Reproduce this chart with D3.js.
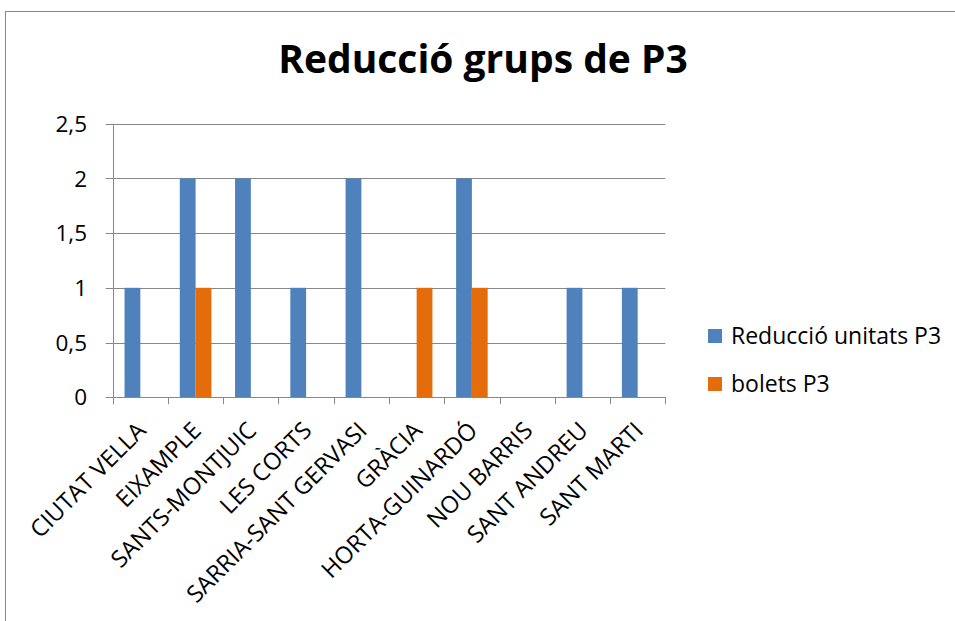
<!DOCTYPE html>
<html><head><meta charset="utf-8">
<script src="https://cdn.jsdelivr.net/npm/d3@7"></script>
<style>
html,body{margin:0;padding:0;background:#fff;}
svg{display:block;}
text{font-family:"Open Sans",sans-serif;fill:#000;}
</style></head>
<body>
<svg id="c" width="955" height="621"></svg>
<script>
const categories = ["CIUTAT VELLA","EIXAMPLE","SANTS-MONTJUIC","LES CORTS","SARRIA-SANT GERVASI","GRÀCIA","HORTA-GUINARDÓ","NOU BARRIS","SANT ANDREU","SANT MARTI"];
const reduccioUnitats = [1,2,2,1,2,0,2,0,1,1];
const boletsP3 = [0,1,0,0,0,1,1,0,0,0];
const seriesNames = ["Reducció unitats P3","bolets P3"];
const seriesColors = ["#4F81BD","#E46C0A"];
const yTicks = [0,0.5,1,1.5,2,2.5];
const title = "Reducció grups de P3";

(function(){
const svg = d3.select("#c");
const pL = 112.7, pR = 665.3, pT = 123.7, pB = 397.2;

// chart border
svg.append("rect").attr("x",5.5).attr("y",11.5).attr("width",1200).attr("height",1200)
  .attr("fill","none").attr("stroke","#888").attr("stroke-width",1);

const x = d3.scaleBand().domain(categories).range([pL,pR]).paddingInner(0).paddingOuter(0);
const xs = d3.scaleBand().domain(seriesNames).range([0,x.bandwidth()]).paddingInner(0).paddingOuter(0.75);
const y = d3.scaleLinear().domain([0,2.5]).range([pB,pT]);
const fmt = v => String(v).replace(".",",");

// gridlines
svg.append("g").selectAll("line").data(yTicks).join("line")
  .attr("x1",pL-7).attr("x2",pR)
  .attr("y1",d=>Math.round(y(d))+0.5).attr("y2",d=>Math.round(y(d))+0.5)
  .attr("stroke","#888").attr("stroke-width",1);

// y labels
svg.append("g").selectAll("text").data(yTicks).join("text")
  .attr("x",87).attr("y",d=>y(d)).attr("dy","0.36em")
  .attr("text-anchor","end").attr("font-size",22.5).text(fmt);

// bars
const data = categories.map((c,i)=>({c, vals:[reduccioUnitats[i],boletsP3[i]]}));
const g = svg.append("g");
data.forEach(d=>{
  d.vals.forEach((v,j)=>{
    if(v<=0) return;
    g.append("rect")
      .attr("x",x(d.c)+xs(seriesNames[j]))
      .attr("width",xs.bandwidth())
      .attr("y",y(v)).attr("height",y(0)-y(v))
      .attr("fill",seriesColors[j]);
  });
});

// axes lines
svg.append("line").attr("x1",Math.round(pL)+0.5).attr("x2",Math.round(pL)+0.5)
  .attr("y1",pT).attr("y2",pB+7).attr("stroke","#888");
const bounds = categories.map(c=>x(c)).concat([pR]);
svg.append("g").selectAll("line").data(bounds).join("line")
  .attr("x1",d=>Math.round(d)+0.5).attr("x2",d=>Math.round(d)+0.5)
  .attr("y1",pB).attr("y2",pB+7).attr("stroke","#888");
svg.append("line").attr("x1",pL).attr("x2",pR)
  .attr("y1",Math.round(pB)+0.5).attr("y2",Math.round(pB)+0.5).attr("stroke","#888");

// x labels
svg.append("g").selectAll("text").data(categories).join("text")
  .attr("transform",d=>`translate(${x(d)+x.bandwidth()/2+1},426) rotate(-45)`)
  .attr("text-anchor","end").attr("dy","0.36em").attr("font-size",23.5).text(d=>d);

// title
svg.append("text").attr("x",483).attr("y",73).attr("text-anchor","middle")
  .attr("font-size",39).attr("font-weight","bold").text(title);

// legend
const lg = svg.append("g");
seriesNames.forEach((s,i)=>{
  lg.append("rect").attr("x",708).attr("y",329+i*48).attr("width",14).attr("height",14).attr("fill",seriesColors[i]);
  lg.append("text").attr("x",731).attr("y",344+i*48).attr("font-size",23).text(s);
});
})();
</script>
</body></html>
